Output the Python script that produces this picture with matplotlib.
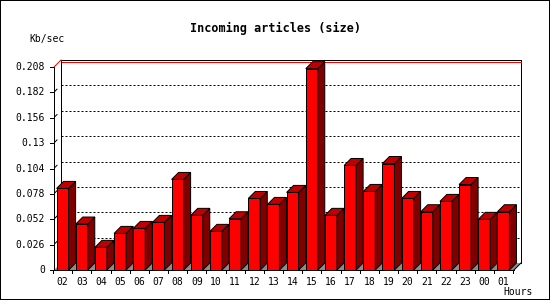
import matplotlib
matplotlib.use('Agg')
import matplotlib.pyplot as plt
from matplotlib.patches import Polygon, Rectangle

hours = ['02', '03', '04', '05', '06', '07', '08', '09', '10', '11', '12', '13',
         '14', '15', '16', '17', '18', '19', '20', '21', '22', '23', '00', '01']
values = [0.0836, 0.0471, 0.0232, 0.0375, 0.0426, 0.0488, 0.0928, 0.0560,
          0.0396, 0.0525, 0.0733, 0.0672, 0.0795, 0.2063, 0.0560, 0.1071,
          0.0805, 0.1091, 0.0733, 0.0597, 0.0703, 0.0876, 0.0519, 0.0597]
yticks = [0, 0.026, 0.052, 0.078, 0.104, 0.13, 0.156, 0.182, 0.208]
ytick_labels = ['0', '0.026', '0.052', '0.078', '0.104', '0.13', '0.156', '0.182', '0.208']
title = 'Incoming articles (size)'
ylabel = 'Kb/sec'
xlabel = 'Hours'

W, H = 550, 300
fig = plt.figure(figsize=(5.5, 3), dpi=100)
ax = fig.add_axes([54 / W, 30 / H, 460 / W, 203 / H])
ymax = yticks[-1]
n = len(hours)
ax.set_xlim(0, n)
ax.set_ylim(0, ymax)
ax.axis('off')

px_x = n / 460.0
px_y = ymax / 203.0
dx = 7 * px_x
dy = 7 * px_y
LW = 0.72
MONO = 'DejaVu Sans Mono'

# floor
ax.add_patch(Polygon([(0, 0), (n, 0), (n + dx, dy), (dx, dy)], closed=True,
                     facecolor='#8c8c8c', edgecolor='none', zorder=1, clip_on=False))
# back wall gridlines
for v in yticks[1:-1]:
    ax.plot([dx, n + dx], [v + dy, v + dy], color='black', lw=LW,
            dashes=(2, 2), zorder=1.5, clip_on=False)
# back wall frame
ax.plot([dx, dx], [dy, ymax + dy], color='black', lw=LW, zorder=1.6, clip_on=False)
ax.plot([n + dx, n + dx], [dy, ymax + dy], color='black', lw=LW, zorder=1.6, clip_on=False)
ax.plot([dx, n + dx], [ymax + dy, ymax + dy], color='black', lw=LW, zorder=1.6, clip_on=False)
ax.plot([dx + px_x, n + dx], [ymax + dy - 1.6 * px_y, ymax + dy - 1.6 * px_y], color='#ff0000',
        lw=LW, zorder=1.7, clip_on=False)
ax.plot([0, dx], [ymax, ymax + dy], color='#ff0000', lw=LW, zorder=1.6, clip_on=False)
ax.plot([n, n + dx], [0, dy], color='black', lw=LW, zorder=1.6, clip_on=False)

# bars
bw = 12 * px_x
off = 2.6 * px_x
centers = [i + off + bw / 2 for i in range(n)]
bars = ax.bar(centers, values, width=bw, color='#ff0000', edgecolor='black',
              linewidth=LW, zorder=2)
for i, (rect, v) in enumerate(zip(bars.patches, values)):
    z = 2 + i * 0.01
    rect.set_zorder(z)
    xl = rect.get_x()
    xr = xl + rect.get_width()
    ax.add_patch(Polygon([(xr, 0), (xr + dx, dy), (xr + dx, v + dy), (xr, v)], closed=True,
                         facecolor='#800000', edgecolor='black', lw=LW, zorder=z, clip_on=False))
    ax.add_patch(Polygon([(xl, v), (xr, v), (xr + dx, v + dy), (xl + dx, v + dy)], closed=True,
                         facecolor='#c00000', edgecolor='black', lw=LW, zorder=z, clip_on=False))

# front axes
ax.plot([0, 0], [0, ymax], color='black', lw=LW, zorder=3, clip_on=False)
ax.plot([0, n], [0, 0], color='black', lw=LW, zorder=3, clip_on=False)
for v, lab in zip(yticks, ytick_labels):
    ax.plot([-4 * px_x, 0], [v, v], color='black', lw=LW, zorder=3, clip_on=False)
    if 0 < v < ymax:
        ax.plot([0.8 * px_x, 3 * px_x], [v + 1 * px_y, v + 3.2 * px_y], color='black',
                lw=LW, zorder=3, clip_on=False)
    ax.text(-9 * px_x, v, lab, ha='right', va='center', fontsize=7, family=MONO)
for i in range(n + 1):
    ax.plot([i - 0.9 * px_x, i - 0.9 * px_x], [0, -3 * px_y], color='black', lw=LW,
            zorder=3, clip_on=False)
for c, lab in zip(centers, hours):
    ax.text(c, -11.6 * px_y, lab, ha='center', va='center', fontsize=7, family=MONO)

fig.text(275 / W, 1 - 28 / H, title, ha='center', va='center', fontsize=8.5,
         fontweight='bold', family=MONO)
fig.text(47 / W, 1 - 38.6 / H, ylabel, ha='center', va='center', fontsize=7, family=MONO)
fig.text(533 / W, 1 - 291.7 / H, xlabel, ha='right', va='center', fontsize=7, family=MONO)
fig.patches.append(Rectangle((0, 0), 1, 1, transform=fig.transFigure, fill=False,
                             edgecolor='black', lw=1.44))
fig.savefig('out.png', dpi=100)
